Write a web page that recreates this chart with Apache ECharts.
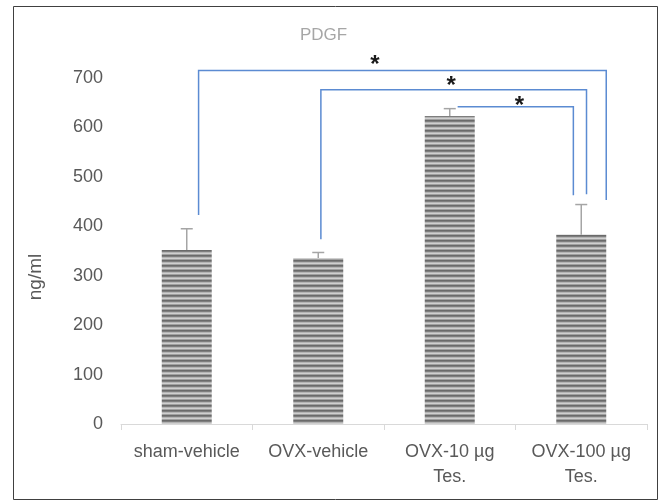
<!DOCTYPE html>
<html><head><meta charset="utf-8">
<script src="https://cdn.jsdelivr.net/npm/echarts@6/dist/echarts.min.js"></script>
<style>html,body{margin:0;padding:0;background:#fff}#c{width:659px;height:502px}</style>
</head><body><div id="c"></div>
<script>
const categories = ['sham-vehicle', 'OVX-vehicle', 'OVX-10 µg\nTes.', 'OVX-100 µg\nTes.'];
const means = [352, 336, 623, 383];
const errors = [43, 11, 15, 61];
const yTicks = [0, 100, 200, 300, 400, 500, 600, 700];
// brackets: [leftX(cat idx), leftBottom, top, rightX, rightBottom, starX, starY]
const brackets = [
  [0.09, 423, 715, 3.19, 453, 1.43, 725],
  [1.02, 374, 676, 3.04, 465, 2.01, 684],
  [2.06, 642, 642, 2.94, 463, 2.53, 642]
];

const font = 'Liberation Sans, Arial, sans-serif';
const pc = document.createElement('canvas');
pc.width = 4; pc.height = 5;
const pctx = pc.getContext('2d');
const rows = ['#6a6a6a', '#7e7e7e', '#b4b4b4', '#cfcfcf', '#a0a0a0'];
rows.forEach((c, i) => { pctx.fillStyle = c; pctx.fillRect(0, i, 4, 1); });

const chart = echarts.init(document.getElementById('c'), null, {renderer: 'canvas'});
chart.setOption({
  animation: false,
  backgroundColor: '#fff',
  title: {text: 'PDGF', left: 295, top: 22,
    textStyle: {color: '#a6a6a6', fontSize: 17, fontWeight: 'normal', fontFamily: font}},
  grid: {left: 121, right: 12, top: 78, bottom: 78},
  graphic: [{type: 'rect', shape: {x: 13.5, y: 6.5, width: 644, height: 493},
    style: {fill: 'none', stroke: '#404040', lineWidth: 1}, silent: true}],
  xAxis: {type: 'category', data: categories,
    axisLine: {lineStyle: {color: '#d9d9d9', width: 1}},
    axisTick: {show: true, length: 6, lineStyle: {color: '#d9d9d9'}},
    axisLabel: {color: '#595959', fontSize: 18, fontFamily: font, margin: 16, lineHeight: 25, interval: 0}},
  yAxis: {type: 'value', min: 0, max: 700, interval: 100,
    name: 'ng/ml', nameLocation: 'middle', nameGap: 76, nameRotate: 90,
    nameTextStyle: {color: '#595959', fontSize: 19, fontFamily: font, padding: [0, 52, 0, 0]},
    axisLine: {show: false}, axisTick: {show: false}, splitLine: {show: false},
    axisLabel: {color: '#595959', fontSize: 18, fontFamily: font, margin: 18,
      formatter: v => yTicks.includes(v) ? String(v) : ''}},
  series: [
    {type: 'bar', data: means, barWidth: '38%',
      itemStyle: {color: {image: pc, repeat: 'repeat'}}, z: 2},
    {type: 'custom', z: 3,
      data: means.map((m, i) => [i, m, errors[i]]),
      renderItem: (params, api) => {
        const i = api.value(0), m = api.value(1), e = api.value(2);
        const p0 = api.coord([i, m]), p1 = api.coord([i, m + e]);
        const st = {stroke: '#a5a5a5', lineWidth: 1.5};
        return {type: 'group', children: [
          {type: 'line', shape: {x1: p0[0], y1: p0[1], x2: p1[0], y2: p1[1]}, style: st},
          {type: 'line', shape: {x1: p1[0] - 6, y1: p1[1], x2: p1[0] + 6, y2: p1[1]}, style: st}
        ]};
      }},
    {type: 'custom', z: 4, clip: false,
      data: brackets,
      renderItem: (params, api) => {
        const c0 = api.coord([0, 0])[0];
        const bw = api.size([1, 0])[0];
        const px = x => c0 + x * bw;
        const py = y => api.coord([0, y])[1];
        const lx = px(api.value(0)), lb = py(api.value(1)), t = py(api.value(2));
        const rx = px(api.value(3)), rb = py(api.value(4));
        const sx = px(api.value(5)), sy = py(api.value(6));
        return {type: 'group', children: [
          {type: 'polyline', shape: {points: [[lx, lb], [lx, t], [rx, t], [rx, rb]]},
            style: {stroke: '#5b8bd2', lineWidth: 1.5, fill: 'none'}},
          {type: 'text', style: {text: '*', x: sx, y: sy, align: 'center', verticalAlign: 'middle',
            fill: '#1a1a1a', font: 'bold 24px ' + font}}
        ]};
      }}
  ]
});
</script></body></html>
